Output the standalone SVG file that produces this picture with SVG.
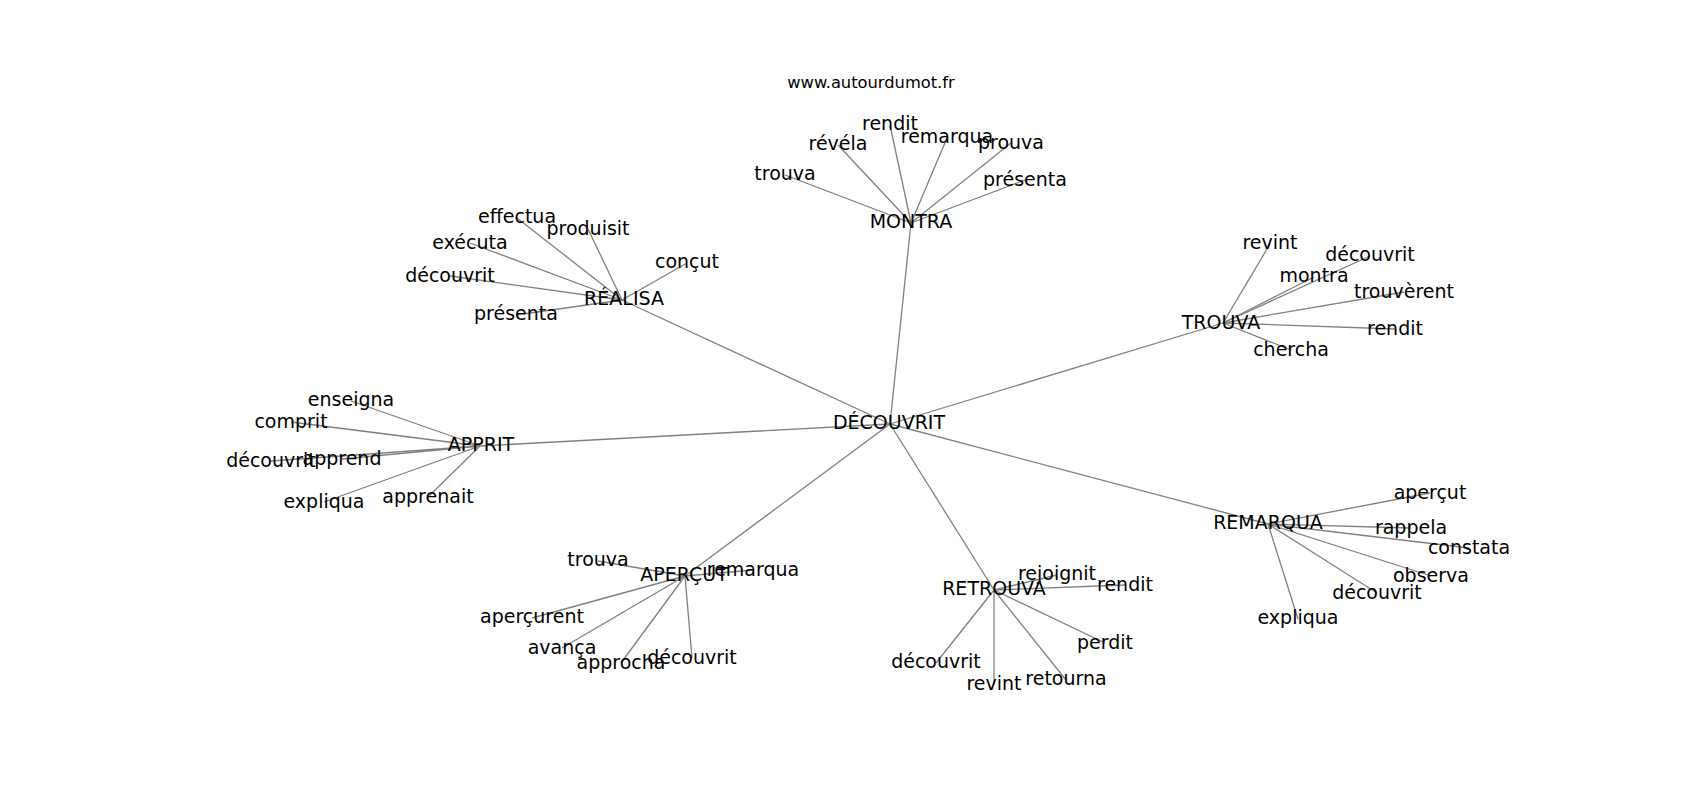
<svg xmlns="http://www.w3.org/2000/svg" width="1700" height="800" viewBox="0 0 1700 800">
<style>
.e{stroke:#808080;stroke-width:1.3;fill:none}
text{font-family:"DejaVu Sans",sans-serif;font-size:19px;fill:#000;text-anchor:middle}
.t{font-size:16.3px}
</style>
<rect width="1700" height="800" fill="#fff"/>
<g id="connectors">
<line class="e" x1="890" y1="424" x2="911" y2="223"/>
<line class="e" x1="890" y1="424" x2="622" y2="300"/>
<line class="e" x1="890" y1="424" x2="1223" y2="323"/>
<line class="e" x1="890" y1="424" x2="480" y2="446"/>
<line class="e" x1="890" y1="424" x2="685" y2="576"/>
<line class="e" x1="890" y1="424" x2="994" y2="590"/>
<line class="e" x1="890" y1="424" x2="1268" y2="524"/>
<line class="e" x1="911" y1="223" x2="785" y2="175"/>
<line class="e" x1="911" y1="223" x2="838" y2="145"/>
<line class="e" x1="911" y1="223" x2="890" y2="125"/>
<line class="e" x1="911" y1="223" x2="947" y2="138"/>
<line class="e" x1="911" y1="223" x2="1011" y2="143"/>
<line class="e" x1="911" y1="223" x2="1025" y2="180"/>
<line class="e" x1="622" y1="300" x2="517" y2="218"/>
<line class="e" x1="622" y1="300" x2="588" y2="229"/>
<line class="e" x1="622" y1="300" x2="470" y2="243"/>
<line class="e" x1="622" y1="300" x2="450" y2="276"/>
<line class="e" x1="622" y1="300" x2="687" y2="263"/>
<line class="e" x1="622" y1="300" x2="516" y2="315"/>
<line class="e" x1="1223" y1="323" x2="1270" y2="244"/>
<line class="e" x1="1223" y1="323" x2="1370" y2="256"/>
<line class="e" x1="1223" y1="323" x2="1314" y2="277"/>
<line class="e" x1="1223" y1="323" x2="1404" y2="292"/>
<line class="e" x1="1223" y1="323" x2="1395" y2="329"/>
<line class="e" x1="1223" y1="323" x2="1291" y2="350"/>
<line class="e" x1="480" y1="446" x2="351" y2="401"/>
<line class="e" x1="480" y1="446" x2="291" y2="422"/>
<line class="e" x1="480" y1="446" x2="271" y2="461"/>
<line class="e" x1="480" y1="446" x2="342" y2="459"/>
<line class="e" x1="480" y1="446" x2="324" y2="502"/>
<line class="e" x1="480" y1="446" x2="428" y2="497"/>
<line class="e" x1="685" y1="576" x2="598" y2="561"/>
<line class="e" x1="685" y1="576" x2="753" y2="570"/>
<line class="e" x1="685" y1="576" x2="532" y2="618"/>
<line class="e" x1="685" y1="576" x2="562" y2="648"/>
<line class="e" x1="685" y1="576" x2="621" y2="663"/>
<line class="e" x1="685" y1="576" x2="692" y2="658"/>
<line class="e" x1="994" y1="590" x2="1057" y2="575"/>
<line class="e" x1="994" y1="590" x2="1125" y2="585"/>
<line class="e" x1="994" y1="590" x2="1105" y2="643"/>
<line class="e" x1="994" y1="590" x2="936" y2="663"/>
<line class="e" x1="994" y1="590" x2="994" y2="685"/>
<line class="e" x1="994" y1="590" x2="1066" y2="680"/>
<line class="e" x1="1268" y1="524" x2="1430" y2="493"/>
<line class="e" x1="1268" y1="524" x2="1411" y2="528"/>
<line class="e" x1="1268" y1="524" x2="1469" y2="548"/>
<line class="e" x1="1268" y1="524" x2="1431" y2="576"/>
<line class="e" x1="1268" y1="524" x2="1377" y2="593"/>
<line class="e" x1="1268" y1="524" x2="1298" y2="619"/>
</g>
<text class="t" x="871" y="88">www.autourdumot.fr</text>
<g id="n-decouvrit"><text x="889" y="429">DÉCOUVRIT</text></g>
<g id="n-montra"><text x="911" y="228">MONTRA</text></g>
<g id="n-montra-trouva"><text x="785" y="180">trouva</text></g>
<g id="n-montra-revela"><text x="838" y="150">révéla</text></g>
<g id="n-montra-rendit"><text x="890" y="130">rendit</text></g>
<g id="n-montra-remarqua"><text x="947" y="143">remarqua</text></g>
<g id="n-montra-prouva"><text x="1011" y="149">prouva</text></g>
<g id="n-montra-presenta"><text x="1025" y="186">présenta</text></g>
<g id="n-realisa"><text x="624" y="305">RÉALISA</text></g>
<g id="n-realisa-effectua"><text x="517" y="223">effectua</text></g>
<g id="n-realisa-produisit"><text x="588" y="235">produisit</text></g>
<g id="n-realisa-execta"><text x="470" y="249">exécuta</text></g>
<g id="n-realisa-decouvrit"><text x="450" y="282">découvrit</text></g>
<g id="n-realisa-concut"><text x="687" y="268">conçut</text></g>
<g id="n-realisa-presenta"><text x="516" y="320">présenta</text></g>
<g id="n-trouva"><text x="1221" y="329">TROUVA</text></g>
<g id="n-trouva-revint"><text x="1270" y="249">revint</text></g>
<g id="n-trouva-decouvrit"><text x="1370" y="261">découvrit</text></g>
<g id="n-trouva-montra"><text x="1314" y="282">montra</text></g>
<g id="n-trouva-trouverent"><text x="1404" y="298">trouvèrent</text></g>
<g id="n-trouva-rendit"><text x="1395" y="335">rendit</text></g>
<g id="n-trouva-chercha"><text x="1291" y="356">chercha</text></g>
<g id="n-apprit"><text x="481" y="451">APPRIT</text></g>
<g id="n-apprit-enseigna"><text x="351" y="406">enseigna</text></g>
<g id="n-apprit-comprit"><text x="291" y="428">comprit</text></g>
<g id="n-apprit-decouvrit"><text x="271" y="467">découvrit</text></g>
<g id="n-apprit-apprend"><text x="342" y="465">apprend</text></g>
<g id="n-apprit-expliqua"><text x="324" y="508">expliqua</text></g>
<g id="n-apprit-apprenait"><text x="428" y="503">apprenait</text></g>
<g id="n-apercut"><text x="684" y="581">APERÇUT</text></g>
<g id="n-apercut-trouva"><text x="598" y="566">trouva</text></g>
<g id="n-apercut-remarqua"><text x="753" y="576">remarqua</text></g>
<g id="n-apercut-apercurent"><text x="532" y="623">aperçurent</text></g>
<g id="n-apercut-avanca"><text x="562" y="654">avança</text></g>
<g id="n-apercut-approcha"><text x="621" y="669">approcha</text></g>
<g id="n-apercut-decouvrit"><text x="692" y="664">découvrit</text></g>
<g id="n-retrouva"><text x="994" y="595">RETROUVA</text></g>
<g id="n-retrouva-rejoignit"><text x="1057" y="580">rejoignit</text></g>
<g id="n-retrouva-rendit"><text x="1125" y="591">rendit</text></g>
<g id="n-retrouva-perdit"><text x="1105" y="649">perdit</text></g>
<g id="n-retrouva-decouvrit"><text x="936" y="668">découvrit</text></g>
<g id="n-retrouva-revint"><text x="994" y="690">revint</text></g>
<g id="n-retrouva-retourna"><text x="1066" y="685">retourna</text></g>
<g id="n-remarqua"><text x="1268" y="529">REMARQUA</text></g>
<g id="n-remarqua-apercut"><text x="1430" y="499">aperçut</text></g>
<g id="n-remarqua-rappela"><text x="1411" y="534">rappela</text></g>
<g id="n-remarqua-constata"><text x="1469" y="554">constata</text></g>
<g id="n-remarqua-observa"><text x="1431" y="582">observa</text></g>
<g id="n-remarqua-decouvrit"><text x="1377" y="599">découvrit</text></g>
<g id="n-remarqua-expliqua"><text x="1298" y="624">expliqua</text></g>
</svg>
